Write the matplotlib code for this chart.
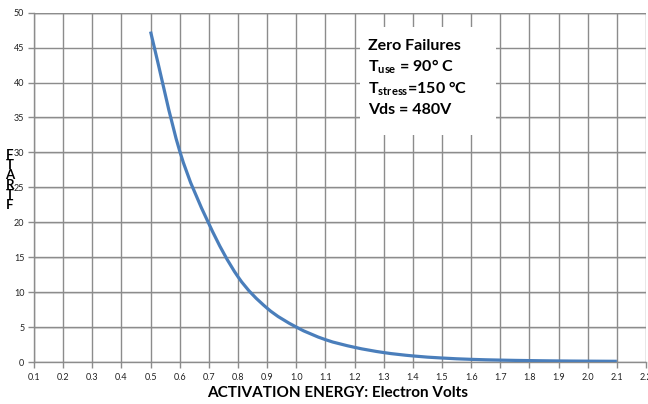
import matplotlib
matplotlib.use("Agg")
import matplotlib.pyplot as plt
from matplotlib.patches import Rectangle, PathPatch
from matplotlib.path import Path
import numpy as np

plt.rcParams['font.family'] = ['Lato', 'DejaVu Sans']

# Data
energy = [0.5, 0.6, 0.7, 0.8, 0.9, 1.0, 1.1, 1.2, 1.3, 1.4, 1.5, 1.6, 1.7, 1.8, 1.9, 2.0, 2.1]
value = [47.3, 30.2, 19.8, 12.2, 7.7, 5.0, 3.2, 2.1, 1.35, 0.87, 0.57, 0.38, 0.27, 0.2, 0.15, 0.12, 0.1]
xticks = [round(0.1 * i, 1) for i in range(1, 23)]
xtick_labels = [f"{v:.1f}" for v in xticks]
yticks = list(range(0, 51, 5))
ylabel_letters = ["F", "T", "A", "R", "T", "F"]
box_lines = ["Zero Failures", r"T$_{\mathregular{use}}$ = 90° C",
             r"T$_{\mathregular{stress}}$=150 °C", "Vds = 480V"]
xlabel = "ACTIVATION ENERGY: Electron Volts"

W, H = 648, 404
fig = plt.figure(figsize=(W / 100, H / 100), dpi=100)
ax = fig.add_axes([34 / W, (H - 362) / H, (646 - 34) / W, (362 - 12.7) / H])

ax.set_xlim(0.1, 2.2)
ax.set_ylim(0, 50)
ax.set_xticks(xticks)
ax.set_xticklabels(xtick_labels)
ax.set_yticks(yticks)

grid_c = '#8c8c8c'
for x in xticks:
    ax.axvline(x, color=grid_c, lw=1.0, zorder=1)
for y in yticks:
    ax.axhline(y, color=grid_c, lw=1.0, zorder=1)
    ax.axhline(y - 0.12, color='#dddddd', lw=0.8, zorder=0.9)

for s in ['top', 'right']:
    ax.spines[s].set_visible(False)
for s in ['left', 'bottom']:
    ax.spines[s].set_color(grid_c)
    ax.spines[s].set_linewidth(1.0)

ax.tick_params(axis='both', colors=grid_c, labelcolor='#222222', labelsize=6.5,
               length=4, width=1.0, direction='out')
ax.tick_params(axis='x', pad=4)
ax.tick_params(axis='y', pad=3)

# smoothed line (Excel-style smoothing through the data points)
P = np.column_stack([energy, value])
n = len(P)
verts = [tuple(P[0])]
codes = [Path.MOVETO]
for i in range(n - 1):
    p1 = P[i]
    p2 = P[i + 1]
    p0 = P[i - 1] if i > 0 else 2 * p1 - p2
    p3 = P[i + 2] if i + 2 < n else 2 * p2 - p1
    c1 = p1 + (p2 - p0) / 6.0
    c2 = p2 - (p3 - p1) / 6.0
    verts += [tuple(c1), tuple(c2), tuple(p2)]
    codes += [Path.CURVE4] * 3
path = Path(verts, codes)
ax.add_patch(PathPatch(path, facecolor='none', edgecolor='#4a7ebb', lw=2.3,
                       zorder=3, capstyle='butt'))

# annotation box
box = Rectangle((360 / W, (H - 135) / H), (496 - 360) / W, (135 - 27) / H,
                transform=fig.transFigure, facecolor='white', edgecolor='none', zorder=5)
fig.patches.append(box)
ys = [50, 71, 93, 114]
for txt, yy in zip(box_lines, ys):
    fig.text(368 / W, (H - yy) / H, txt, fontsize=11.5, fontweight='bold',
             ha='left', va='baseline', color='black', zorder=6)

# stacked y label letters
letter_y = [155, 165, 175, 185, 195, 205]
for ch, yy in zip(ylabel_letters, letter_y):
    fig.text(10 / W, (H - yy) / H, ch, fontsize=9.5, fontweight='bold',
             ha='center', va='center', color='black')

fig.text(338 / W, (H - 393) / H, xlabel, fontsize=11, fontweight='bold',
         ha='center', va='center', color='black')

fig.savefig('out.png', dpi=100)
